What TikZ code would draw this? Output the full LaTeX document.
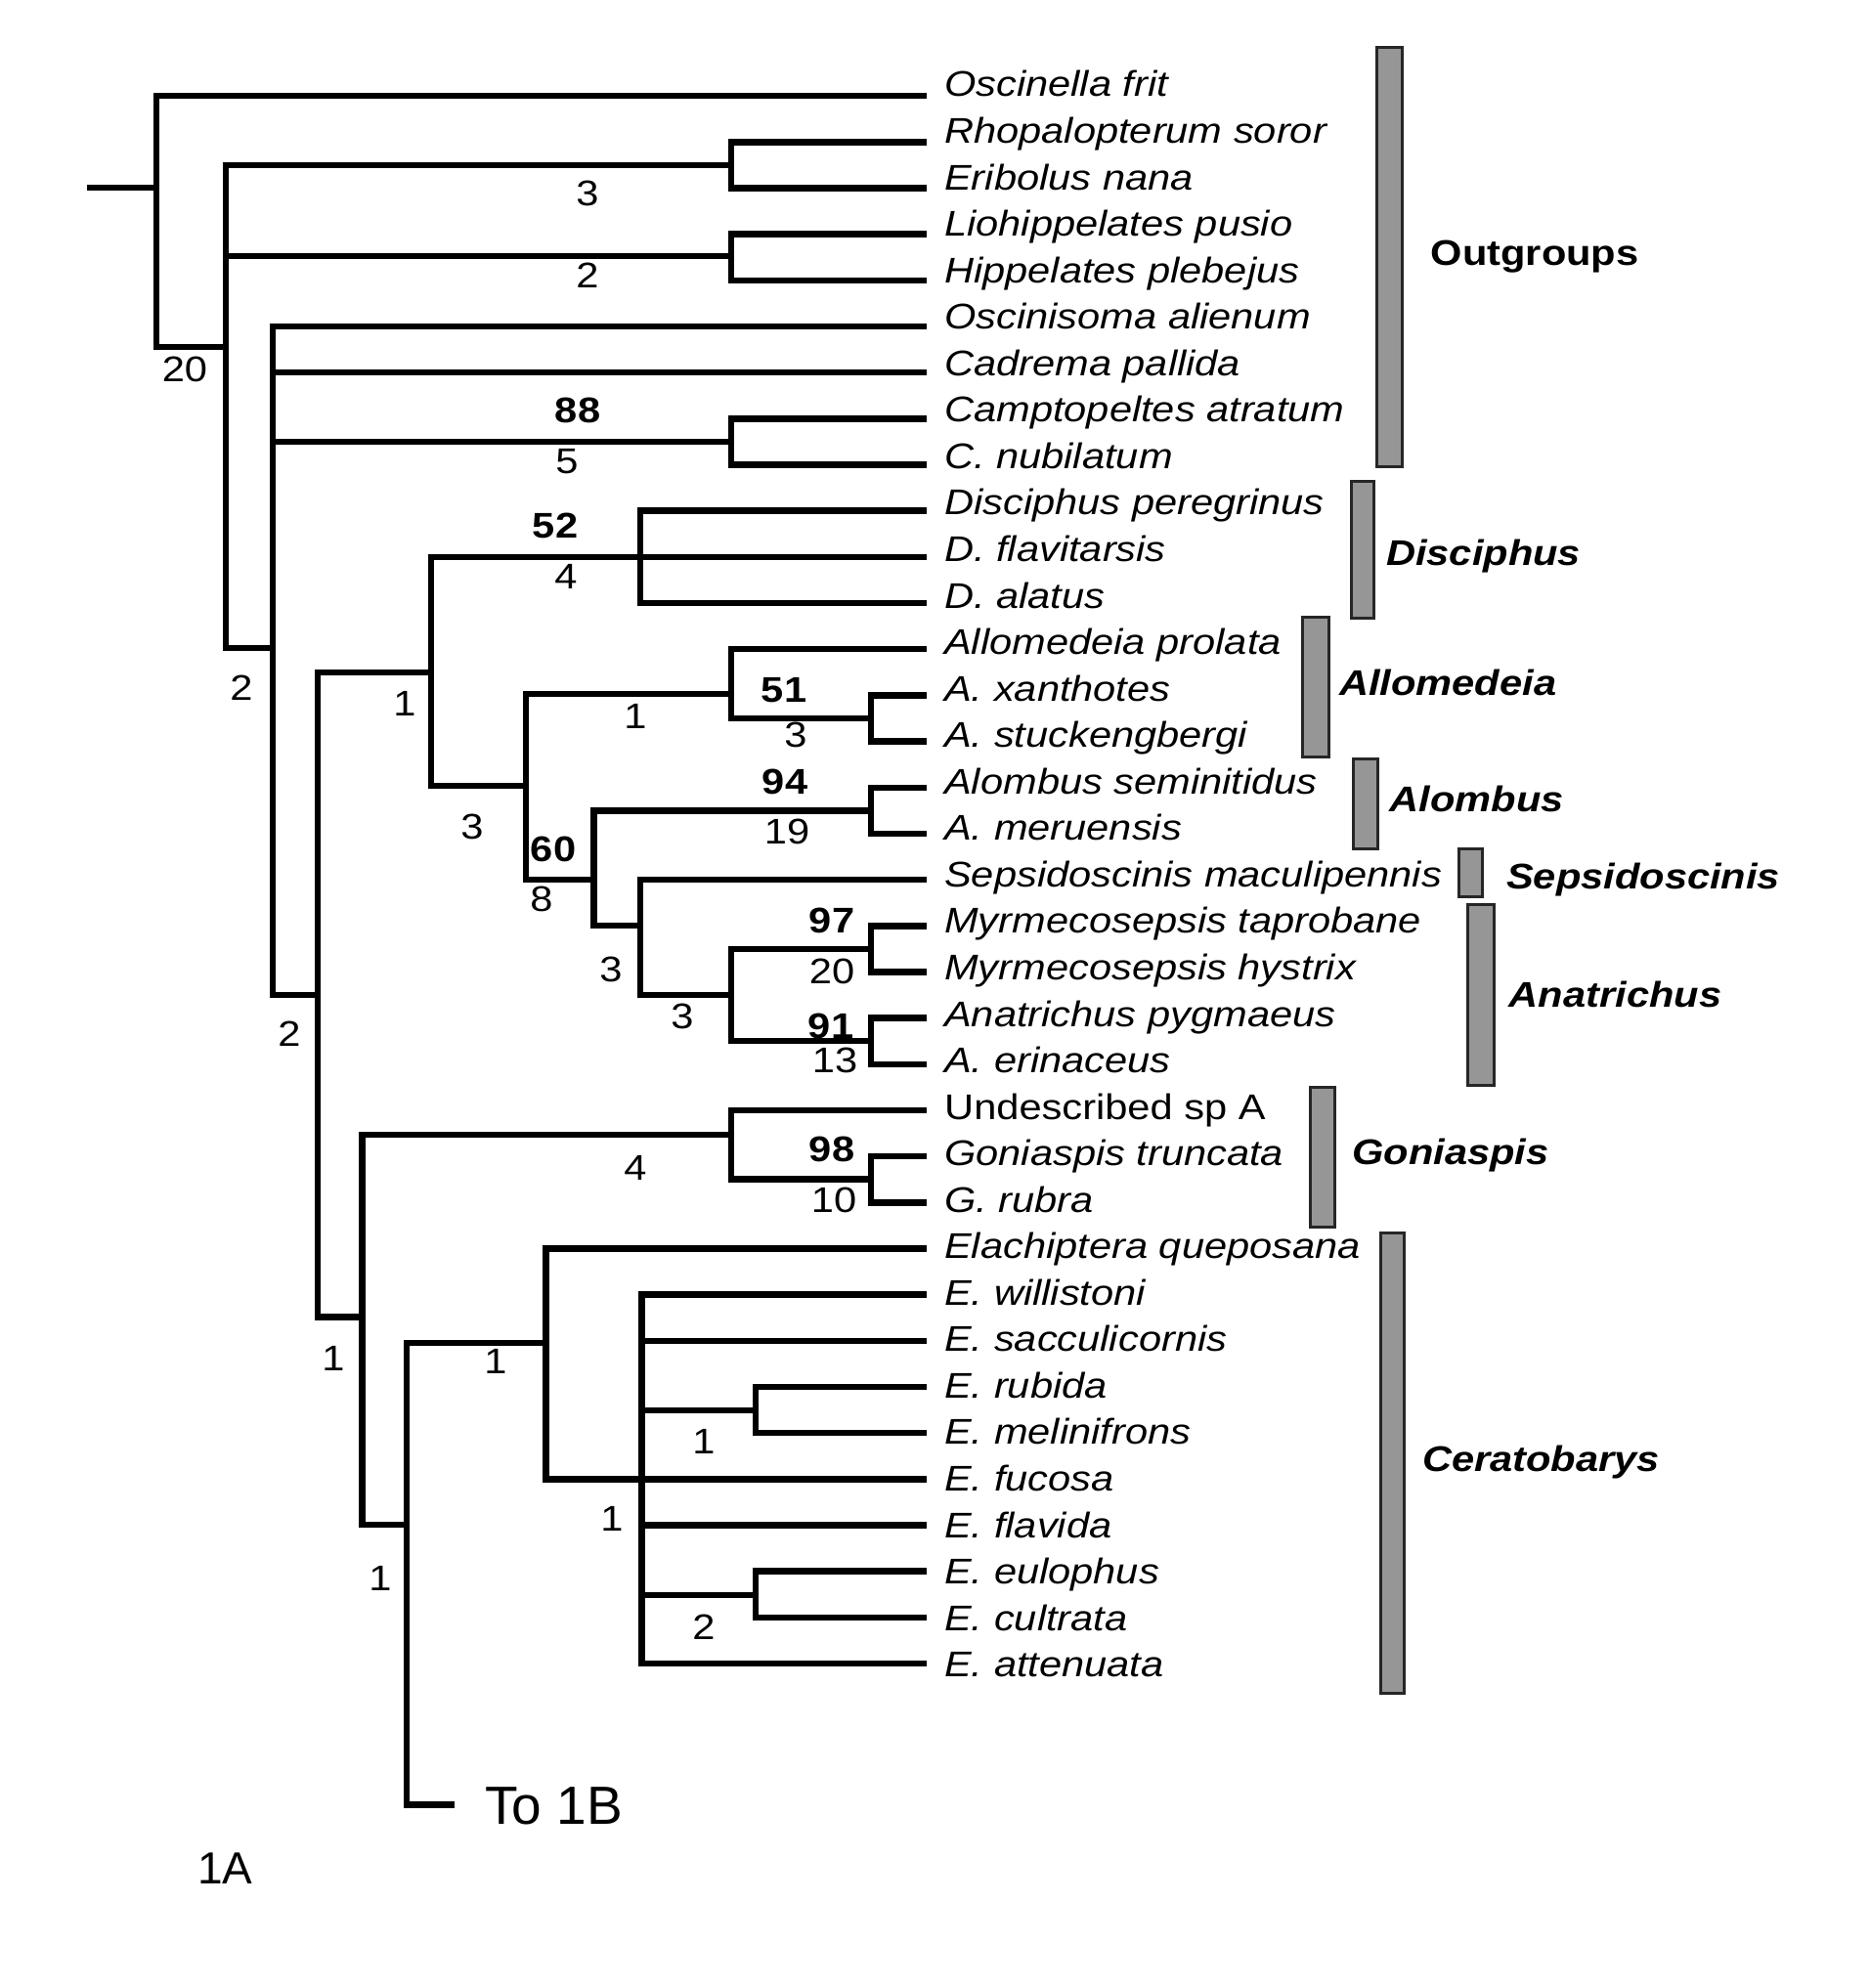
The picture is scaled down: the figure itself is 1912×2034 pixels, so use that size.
\documentclass[tikz,border=0pt]{standalone}
\usepackage{tikz}
\usepackage{fontspec}
\setmainfont{Liberation Sans}[FakeStretch=1.14]
\newfontfamily\plainfont{Liberation Sans}
\definecolor{barfill}{RGB}{150,150,150}
\tikzset{
  br/.style={line width=6.5pt, line join=miter, line cap=butt},
  taxon/.style={anchor=base west, inner sep=0pt, font=\fontsize{36.5}{40}\selectfont\itshape},
  taxonup/.style={anchor=base west, inner sep=0pt, font=\fontsize{36.5}{40}\selectfont},
  supn/.style={inner sep=0pt, font=\fontsize{36.5}{40}\selectfont},
  supb/.style={inner sep=0pt, font=\fontsize{36.5}{40}\selectfont\bfseries},
  grp/.style={anchor=base west, inner sep=0pt, font=\fontsize{36.5}{40}\selectfont\bfseries\itshape},
  grpup/.style={anchor=base west, inner sep=0pt, font=\fontsize{36.5}{40}\selectfont\bfseries},
  barbox/.style={draw=black!85, line width=3pt, fill=barfill},
}
\newcommand\taxlab[3][taxon]{\node[#1] (L#2) at (966,{99+47.55*#2}) {#3};}
\begin{document}
\begin{tikzpicture}[x=1pt,y=-1pt]
\useasboundingbox (0,0) rectangle (1912,2034);
% leaf tips
\foreach \i in {0,...,34} {\coordinate (t\i) at (948,{98.2+47.17*\i});}
% internal nodes
\coordinate (stub) at (89,192);
\coordinate (R) at (160,192);
\coordinate (nB) at (231,355);
\coordinate (nRE) at (748,169);
\coordinate (nLH) at (748,262);
\coordinate (nC) at (279,663);
\coordinate (nCa) at (748,452);
\coordinate (nD) at (325,1018);
\coordinate (nE) at (441,688);
\coordinate (nDi) at (655,569.9);
\coordinate (nF) at (538,804);
\coordinate (nAl) at (748,710);
\coordinate (nAx) at (891,735);
\coordinate (nG) at (607.5,900);
\coordinate (nAb) at (891,829.4);
\coordinate (nH) at (655,947);
\coordinate (nI) at (748,1018);
\coordinate (nMy) at (891,971);
\coordinate (nAn) at (891,1065);
\coordinate (nJ) at (370.5,1347.5);
\coordinate (nGo) at (748,1161);
\coordinate (nGt) at (891,1206.7);
\coordinate (nK) at (416,1560);
\coordinate (nL) at (558.5,1374);
\coordinate (nM) at (656.5,1513.3);
\coordinate (nRM) at (773,1443);
\coordinate (nEC) at (773,1632);
\coordinate (e1B) at (465,1846.5);
% branches
\draw[br] (stub) -- (R);
\foreach \p/\c in {R/t0, R/nB, nB/nRE, nB/nLH, nB/nC, nRE/t1, nRE/t2, nLH/t3, nLH/t4,
  nC/t5, nC/t6, nC/nCa, nC/nD, nCa/t7, nCa/t8, nD/nE, nD/nJ, nE/nDi, nE/nF,
  nDi/t9, nDi/t10, nDi/t11, nF/nAl, nF/nG, nAl/t12, nAl/nAx, nAx/t13, nAx/t14,
  nG/nAb, nG/nH, nAb/t15, nAb/t16, nH/t17, nH/nI, nI/nMy, nI/nAn, nMy/t18, nMy/t19,
  nAn/t20, nAn/t21, nJ/nGo, nJ/nK, nGo/t22, nGo/nGt, nGt/t23, nGt/t24,
  nK/nL, nK/e1B, nL/t25, nL/nM, nM/t26, nM/t27, nM/nRM, nM/t30, nM/t31, nM/nEC, nM/t34,
  nRM/t28, nRM/t29, nEC/t32, nEC/t33}
  {\draw[br] (\p) |- (\c);}
% taxa
\taxlab{0}{Oscinella frit}
\taxlab{1}{Rhopalopterum soror}
\taxlab{2}{Eribolus nana}
\taxlab{3}{Liohippelates pusio}
\taxlab{4}{Hippelates plebejus}
\taxlab{5}{Oscinisoma alienum}
\taxlab{6}{Cadrema pallida}
\taxlab{7}{Camptopeltes atratum}
\taxlab{8}{C. nubilatum}
\taxlab{9}{Disciphus peregrinus}
\taxlab{10}{D. flavitarsis}
\taxlab{11}{D. alatus}
\taxlab{12}{Allomedeia prolata}
\taxlab{13}{A. xanthotes}
\taxlab{14}{A. stuckengbergi}
\taxlab{15}{Alombus seminitidus}
\taxlab{16}{A. meruensis}
\taxlab{17}{Sepsidoscinis maculipennis}
\taxlab{18}{Myrmecosepsis taprobane}
\taxlab{19}{Myrmecosepsis hystrix}
\taxlab{20}{Anatrichus pygmaeus}
\taxlab{21}{A. erinaceus}
\taxlab[taxonup]{22}{Undescribed sp A}
\taxlab{23}{Goniaspis truncata}
\taxlab{24}{G. rubra}
\taxlab{25}{Elachiptera queposana}
\taxlab{26}{E. willistoni}
\taxlab{27}{E. sacculicornis}
\taxlab{28}{E. rubida}
\taxlab{29}{E. melinifrons}
\taxlab{30}{E. fucosa}
\taxlab{31}{E. flavida}
\taxlab{32}{E. eulophus}
\taxlab{33}{E. cultrata}
\taxlab{34}{E. attenuata}
% support values
\node[supn] (s1) at (189,378) {20};
\node[supn] (s2) at (601,198) {3};
\node[supn] (s3) at (601,282) {2};
\node[supn] (s4) at (247,704) {2};
\node[supb] (s5) at (591,420) {88};
\node[supn] (s6) at (580,472) {5};
\node[supn] (s7) at (296,1058) {2};
\node[supn] (s8) at (414,720) {1};
\node[supb] (s9) at (568,538) {52};
\node[supn] (s10) at (579,590) {4};
\node[supn] (s11) at (483,846) {3};
\node[supn] (s12) at (650,733) {1};
\node[supb] (s13) at (802,706) {51};
\node[supn] (s14) at (814,752) {3};
\node[supb] (s15) at (566,869) {60};
\node[supn] (s16) at (554,920) {8};
\node[supb] (s17) at (803,800) {94};
\node[supn] (s18) at (805,851) {19};
\node[supn] (s19) at (625,992) {3};
\node[supn] (s20) at (698,1040) {3};
\node[supb] (s21) at (851,942) {97};
\node[supn] (s22) at (851,994) {20};
\node[supb] (s23) at (850,1050) {91};
\node[supn] (s24) at (854,1085) {13};
\node[supn] (s25) at (341,1390) {1};
\node[supn] (s26) at (650,1195) {4};
\node[supb] (s27) at (851,1176) {98};
\node[supn] (s28) at (853,1228) {10};
\node[supn] (s29) at (389,1615) {1};
\node[supn] (s30) at (507,1393) {1};
\node[supn] (s31) at (626,1554) {1};
\node[supn] (s32) at (720,1475) {1};
\node[supn] (s33) at (720,1665) {2};
% bars
\draw[barbox] (1408,49) rectangle (1434.5,477);
\draw[barbox] (1382,492) rectangle (1405,632);
\draw[barbox] (1332.5,631) rectangle (1359,774);
\draw[barbox] (1384,776) rectangle (1409,868.8);
\draw[barbox] (1492,868) rectangle (1516.5,917);
\draw[barbox] (1501.7,925) rectangle (1528,1110);
\draw[barbox] (1340,1112) rectangle (1365,1255);
\draw[barbox] (1412,1261) rectangle (1436.5,1732.5);
% group labels
\node[grpup] (gOut) at (1463.6,271) {Outgroups};
\node[grp] (gDis) at (1418,578) {Disciphus};
\node[grp] (gAllo) at (1370,711.6) {Allomedeia};
\node[grp] (gAlo) at (1421.6,830.8) {Alombus};
\node[grp] (gSep) at (1541,909.8) {Sepsidoscinis};
\node[grp] (gAna) at (1543.6,1030) {Anatrichus};
\node[grp] (gGon) at (1383,1191) {Goniaspis};
\node[grp] (gCer) at (1455,1505) {Ceratobarys};
% extra labels
\node[anchor=base west, inner sep=0pt, font=\plainfont\fontsize{55}{60}\selectfont] (to1b) at (496,1866) {To 1B};
\node[anchor=base west, inner sep=0pt, font=\plainfont\fontsize{46}{50}\selectfont] (fig1a) at (202,1927.5) {1A};
\end{tikzpicture}
\end{document}
